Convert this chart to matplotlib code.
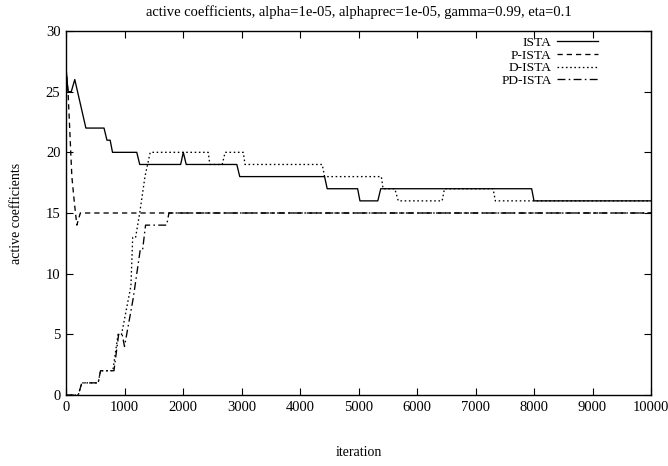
import matplotlib
matplotlib.use("Agg")
import matplotlib.pyplot as plt

plt.rcParams['font.family'] = ['Liberation Serif', 'DejaVu Serif']

title = "active coefficients, alpha=1e-05, alphaprec=1e-05, gamma=0.99, eta=0.1"
labels = ["ISTA", "P-ISTA", "D-ISTA", "PD-ISTA"]

ista_x = [0, 35, 90, 150, 340, 650, 700, 755, 795, 1210, 1260, 1960, 2005, 2055, 2920, 2970,
          4420, 4465, 4985, 5025, 5330, 5380, 7960, 8000, 10000]
ista_y = [27, 25, 25, 26, 22, 22, 21, 21, 20, 20, 19, 19, 20, 19, 19, 18,
          18, 17, 17, 16, 16, 17, 17, 16, 16]

pista_x = [0, 35, 100, 140, 185, 245, 10000]
pista_y = [27, 25, 18, 16, 14, 15, 15]

dista_x = [0, 210, 270, 550, 590, 800, 890, 950, 1030, 1110, 1140, 1190, 1260, 1350, 1440,
           2430, 2460, 2670, 2720, 3030, 3060, 4380, 4420, 5390, 5420, 5620, 5680,
           6430, 6470, 7300, 7340, 10000]
dista_y = [0, 0, 1, 1, 2, 2, 5, 5, 7, 9, 13, 13, 15, 18, 20,
           20, 19, 19, 20, 20, 19, 19, 18, 18, 17, 17, 16,
           16, 17, 17, 16, 16]

pdista_x = [0, 210, 270, 550, 590, 820, 900, 960, 1000, 1150, 1270, 1310, 1360, 1720, 1760, 10000]
pdista_y = [0, 0, 1, 1, 2, 2, 5, 5, 4, 8, 12, 12, 14, 14, 15, 15]

xticks = [0, 1000, 2000, 3000, 4000, 5000, 6000, 7000, 8000, 9000, 10000]
yticks = [0, 5, 10, 15, 20, 25, 30]

fig = plt.figure(figsize=(6.68, 4.66), dpi=100)
L, R, T, B = 66, 651, 31, 395
ax = fig.add_axes([L / 668, 1 - B / 466, (R - L) / 668, (B - T) / 466])

lw = 0.95
ax.plot(ista_x, ista_y, color='black', lw=lw, linestyle='-', label=labels[0])
ax.plot(pista_x, pista_y, color='black', lw=lw, linestyle=(0, (4, 3)), label=labels[1])
ax.plot(dista_x, dista_y, color='black', lw=lw, linestyle=(0, (1.2, 2)), label=labels[2])
ax.plot(pdista_x, pdista_y, color='black', lw=lw, linestyle=(0, (6, 2.5, 1.2, 2.5)), label=labels[3])

ax.set_xlim(0, 10000)
ax.set_ylim(0, 30)
ax.set_xticks(xticks)
ax.set_yticks(yticks)
ax.tick_params(direction='in', top=True, right=True, length=5, width=0.8, labelsize=10.5, pad=4)
for s in ax.spines.values():
    s.set_linewidth(1.0)

ax.set_title(title, fontsize=10.5, pad=11)
ax.set_xlabel("iteration", fontsize=10, labelpad=23)
ax.set_ylabel("active coefficients", fontsize=10, labelpad=16)

leg = ax.legend(loc='upper right', bbox_to_anchor=((603 - L) / (R - L), 1.0), frameon=False,
                markerfirst=False, fontsize=9.7, handlelength=3.0, labelspacing=0.02,
                borderaxespad=0.2, handletextpad=0.4, borderpad=0.2)
for t in leg.get_texts():
    t.set_ha('right')

fig.savefig("out.png", dpi=100)
